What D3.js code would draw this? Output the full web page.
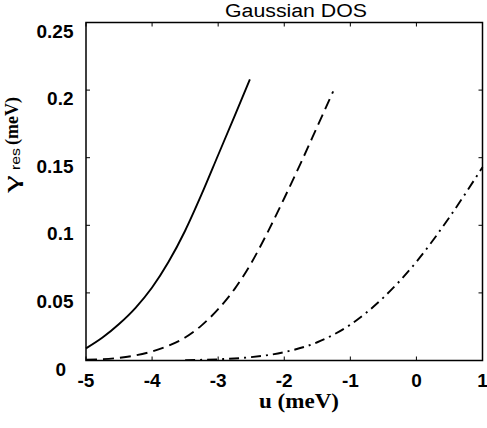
<!DOCTYPE html>
<html>
<head>
<meta charset="utf-8">
<script src="https://cdn.jsdelivr.net/npm/d3@7"></script>
<style>
  body { margin: 0; background: #fff; }
  svg { display: block; }
</style>
</head>
<body>
<div id="chart"></div>
<script>
// values
const uTicks = [-5, -4, -3, -2, -1, 0, 1];
const gammaTicks = [0, 0.05, 0.1, 0.15, 0.2, 0.25];

const uSolid = [-5, -4.75, -4.5, -4.25, -4, -3.75, -3.5, -3.25, -3, -2.75, -2.52];
const gammaSolid = [0.009, 0.017, 0.027, 0.039, 0.054, 0.073, 0.096, 0.123, 0.152, 0.181, 0.208];

const uDashed = [-5, -4.5, -4.25, -4, -3.75, -3.5, -3.25, -3, -2.75, -2.5, -2.25, -2, -1.75, -1.5, -1.26];
const gammaDashed = [0.0005, 0.002, 0.0038, 0.0067, 0.011, 0.017, 0.026, 0.038, 0.053, 0.072, 0.095, 0.12, 0.146, 0.173, 0.199];

const uDashDot = [-3.5, -3, -2.5, -2, -1.5, -1, -0.5, 0, 0.5, 1];
const gammaDashDot = [0.0003, 0.0009, 0.0025, 0.0062, 0.0135, 0.0265, 0.0465, 0.073, 0.106, 0.143];

const width = 487, height = 428;
const margin = {top: 22.5, right: 4.5, bottom: 67.5, left: 86};

const svg = d3.select("#chart").append("svg")
    .attr("width", width)
    .attr("height", height);

const x = d3.scaleLinear().domain([-5, 1]).range([margin.left, width - margin.right]);
const y = d3.scaleLinear().domain([0, 0.25]).range([height - margin.bottom, margin.top]);

const sans = "'Liberation Sans', Arial, sans-serif";
const serif = "'Liberation Serif', 'Times New Roman', serif";

// frame
svg.append("rect")
    .attr("x", x(-5)).attr("y", y(0.25))
    .attr("width", x(1) - x(-5)).attr("height", y(0) - y(0.25))
    .attr("fill", "none").attr("stroke", "#000").attr("stroke-width", 1.5);

// inward ticks on all four sides
const tickLen = 4;
svg.append("g").selectAll("line").data(uTicks).join("line")
    .attr("x1", d => x(d)).attr("x2", d => x(d))
    .attr("y1", y(0)).attr("y2", y(0) - tickLen)
    .attr("stroke", "#000");
svg.append("g").selectAll("line").data(uTicks).join("line")
    .attr("x1", d => x(d)).attr("x2", d => x(d))
    .attr("y1", y(0.25)).attr("y2", y(0.25) + tickLen)
    .attr("stroke", "#000");
svg.append("g").selectAll("line").data(gammaTicks).join("line")
    .attr("x1", x(-5)).attr("x2", x(-5) + tickLen)
    .attr("y1", d => y(d)).attr("y2", d => y(d))
    .attr("stroke", "#000");
svg.append("g").selectAll("line").data(gammaTicks).join("line")
    .attr("x1", x(1)).attr("x2", x(1) - tickLen)
    .attr("y1", d => y(d)).attr("y2", d => y(d))
    .attr("stroke", "#000");

// tick labels
svg.append("g").selectAll("text").data(uTicks).join("text")
    .attr("x", d => x(d))
    .attr("y", 387)
    .attr("text-anchor", "middle")
    .style("font-family", sans)
    .style("font-weight", "bold")
    .style("font-size", "19px")
    .text(d => d);

svg.append("g").selectAll("text").data(gammaTicks).join("text")
    .attr("x", d => d === 0 ? 66 : 73.5)
    .attr("y", d => y(d) + 15)
    .attr("text-anchor", "end")
    .style("font-family", sans)
    .style("font-weight", "bold")
    .style("font-size", "19px")
    .text(d => d);

// title
svg.append("text")
    .attr("x", 225).attr("y", 17)
    .attr("textLength", 142)
    .attr("lengthAdjust", "spacingAndGlyphs")
    .style("font-family", sans)
    .style("font-size", "18px")
    .text("Gaussian DOS");

// x label
svg.append("text")
    .attr("x", 259).attr("y", 408)
    .attr("textLength", 80)
    .attr("lengthAdjust", "spacingAndGlyphs")
    .style("font-family", serif)
    .style("font-weight", "bold")
    .style("font-size", "20px")
    .text("u (meV)");

// y label, drawn in three rotated pieces
const yParts = [
    {text: "γ", y0: 193, len: 18, bx: 18, font: serif, size: 20, weight: "normal"},
    {text: "res", y0: 170, len: 22, bx: 20, font: sans, size: 13, weight: "normal"},
    {text: "(meV)", y0: 145, len: 48, bx: 18, font: serif, size: 18, weight: "bold"}
];
svg.append("g").selectAll("text").data(yParts).join("text")
    .attr("transform", d => `translate(${d.bx},${d.y0}) rotate(-90)`)
    .attr("textLength", d => d.len)
    .attr("lengthAdjust", "spacingAndGlyphs")
    .style("font-family", d => d.font)
    .style("font-size", d => d.size + "px")
    .style("font-weight", d => d.weight)
    .text(d => d.text);

// curves
const line = d3.line()
    .x(d => x(d[0]))
    .y(d => y(d[1]))
    .curve(d3.curveMonotoneX);

const series = [
    {u: uSolid, g: gammaSolid, dash: null},
    {u: uDashed, g: gammaDashed, dash: "11,6"},
    {u: uDashDot, g: gammaDashDot, dash: "10,5,2,5"}
];

svg.append("g").selectAll("path").data(series).join("path")
    .attr("d", s => line(d3.zip(s.u, s.g)))
    .attr("fill", "none")
    .attr("stroke", "#000")
    .attr("stroke-width", 1.9)
    .attr("stroke-dasharray", s => s.dash);
</script>
</body>
</html>
